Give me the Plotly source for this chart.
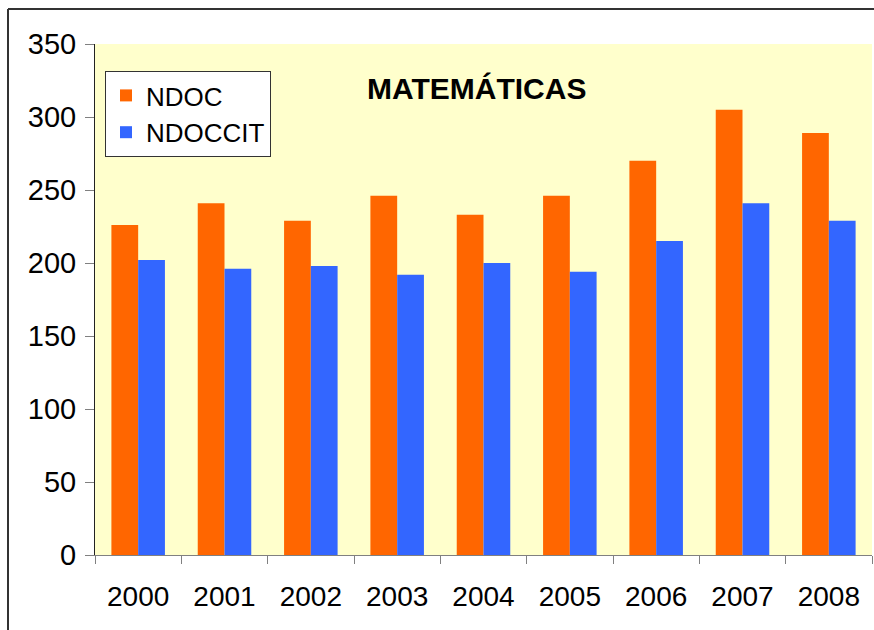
import plotly.graph_objects as go

years = ["2000", "2001", "2002", "2003", "2004", "2005", "2006", "2007", "2008"]
ndoc = [226, 241, 229, 246, 233, 246, 270, 305, 289]
ndoccit = [202, 196, 198, 192, 200, 194, 215, 241, 229]
y_ticks = [0, 50, 100, 150, 200, 250, 300, 350]

FONT = "Liberation Sans, Arial, sans-serif"

fig = go.Figure()
fig.add_trace(go.Bar(name="NDOC", x=years, y=ndoc, marker=dict(color="#FF6600", line_width=0)))
fig.add_trace(go.Bar(name="NDOCCIT", x=years, y=ndoccit, marker=dict(color="#3366FF", line_width=0)))

frame_x = (8 - 95) / 777
frame_y = (555 - 9) / 511

fig.update_layout(
    width=874, height=630,
    margin=dict(l=95, r=2, t=44, b=75),
    paper_bgcolor="white",
    plot_bgcolor="#FFFFCC",
    barmode="group",
    bargap=0.38,
    bargroupgap=0,
    font=dict(family=FONT, size=28, color="black"),
    showlegend=True,
    legend=dict(
        x=(105 - 95) / 777, y=(555 - 71) / 511, xanchor="left", yanchor="top",
        bgcolor="white", bordercolor="#333333", borderwidth=1,
        font=dict(size=26, family=FONT), tracegroupgap=0, itemwidth=30,
    ),
    annotations=[dict(
        text="<b>MATEMÁTICAS</b>", xref="paper", yref="paper",
        x=(476 - 95) / 777, y=(555 - 88) / 511, xanchor="center", yanchor="middle",
        showarrow=False, font=dict(size=30, family=FONT, color="black"),
    )],
    shapes=[
        dict(type="line", xref="paper", yref="paper",
             x0=frame_x, x1=frame_x, y0=-0.3, y1=frame_y,
             line=dict(color="#333333", width=2), layer="below"),
        dict(type="line", xref="paper", yref="paper",
             x0=frame_x, x1=1.05, y0=frame_y, y1=frame_y,
             line=dict(color="#333333", width=2), layer="below"),
    ],
)

fig.update_xaxes(
    type="category", showgrid=False, showline=True, linecolor="#808080", linewidth=1,
    ticks="outside", tickson="boundaries", ticklen=8, tickcolor="#808080",
    tickfont=dict(size=28, family=FONT), ticklabelstandoff=16,
)
fig.update_yaxes(
    range=[0, 350], tickvals=y_ticks, showgrid=False, zeroline=False,
    showline=True, linecolor="#222222", linewidth=1,
    ticks="outside", ticklen=9, tickcolor="#808080",
    tickfont=dict(size=29, family=FONT), ticklabelstandoff=3,
)

fig.write_html(
    "out.html",
    config={"displayModeBar": False},
    post_script="document.body.style.margin='0';document.body.style.overflow='hidden';",
)
